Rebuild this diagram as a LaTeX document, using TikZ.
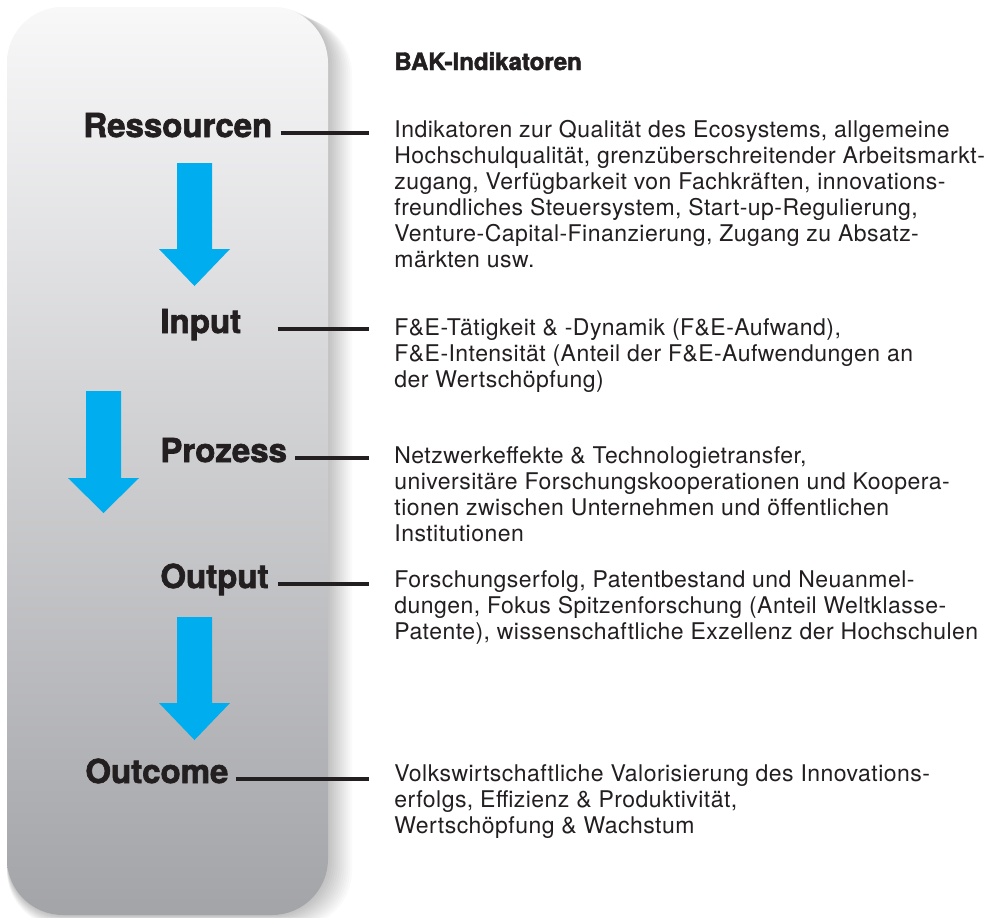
\documentclass[tikz,border=0pt]{standalone}
\usepackage{fontspec}
\setmainfont{TeX Gyre Heros}[LetterSpace=2]
\newfontfamily\heavyfont{TeX Gyre Heros}[BoldFeatures={FakeBold=2}]
\usepackage{tikz}
\usetikzlibrary{calc,positioning}
\definecolor{bakink}{HTML}{231F20}
\definecolor{bakblue}{HTML}{00AEEF}
\definecolor{baktop}{HTML}{F8F8F9}
\definecolor{bakbottom}{HTML}{A3A4A8}

\begin{document}
\begin{tikzpicture}[x=0.5pt,y=-0.5pt,line join=miter,
  lbl/.style={anchor=base west,inner sep=0pt,text=bakink,
    font=\heavyfont\bfseries\fontsize{16.5}{18}\selectfont},
  txt/.style={anchor=base west,inner sep=0pt,align=left,text=bakink,
    font=\fontsize{11.5}{13}\selectfont},
  conn/.style={bakink,line width=1.75pt},
  flow/.style={fill=bakblue}]
\useasboundingbox (0,0) rectangle (995,917);
\fill[white] (0,0) rectangle (995,917);

% Panel mit Schatten
\foreach \s in {1,...,12}
  \fill[black,opacity=.02,rounded corners=28] (7,6+\s) rectangle (328+2*\s,915+\s);
\shade[top color=baktop,bottom color=bakbottom,rounded corners=28]
  (7,7) rectangle (328,915);

% Pfeile
\fill[flow] (177,163)--(212,163)--(212,249)--(230,249)--(194.5,286)--(159,249)--(177,249)--cycle;
\fill[flow] (86,391)--(121,391)--(121,478)--(139,478)--(103.5,513)--(68,478)--(86,478)--cycle;
\fill[flow] (177,617)--(212,617)--(212,703)--(230,703)--(194.5,740)--(159,703)--(177,703)--cycle;

% Stufen
\node[lbl] (res) at (83,137) {Ressourcen};
\node[lbl] (inp) at (160,333) {Input};
\node[lbl] (pro) at (160,462) {Prozess};
\node[lbl] (outp) at (160,588) {Output};
\node[lbl] (outc) at (85,783) {Outcome};

% Indikatoren (base = Grundlinie der letzten Zeile)
\node[anchor=base west,inner sep=0pt,text=bakink,
  font=\heavyfont\bfseries\fontsize{12}{14}\selectfont] (head) at (394,70) {BAK-Indikatoren};
\node[txt] (t1) at (394,267) {Indikatoren zur Qualität des Ecosystems, allgemeine\\
  Hochschulqualität, grenzüberschreitender Arbeitsmarkt-\\
  zugang, Verfügbarkeit von Fachkräften, innovations-\\
  freundliches Steuersystem, Start-up-Regulierung,\\
  Venture-Capital-Finanzierung, Zugang zu Absatz-\\
  märkten usw.};
\node[txt] (t2) at (394,387) {F\&E-Tätigkeit \& -Dynamik (F\&E-Aufwand),\\
  F\&E-Intensität (Anteil der F\&E-Aufwendungen an\\
  der Wertschöpfung)};
\node[txt] (t3) at (394,541) {Netzwerkeffekte \& Technologietransfer,\\
  universitäre Forschungskooperationen und Koopera-\\
  tionen zwischen Unternehmen und öffentlichen\\
  Institutionen};
\node[txt] (t4) at (394,639) {Forschungserfolg, Patentbestand und Neuanmel-\\
  dungen, Fokus Spitzenforschung (Anteil Weltklasse-\\
  Patente), wissenschaftliche Exzellenz der Hochschulen};
\node[txt] (t5) at (394,833) {Volkswirtschaftliche Valorisierung des Innovations-\\
  erfolgs, Effizienz \& Produktivität,\\
  Wertschöpfung \& Wachstum};

% Verbindungslinien
\draw[conn] ($(res.base east)+(8,-4)$) -- ($(res.base east -| t1.west)+(-25,-4)$);
\draw[conn] ($(inp.base east)+(36,-4)$) -- ($(inp.base east -| t2.west)+(-25,-4)$);
\draw[conn] ($(pro.base east)+(8,-4)$) -- ($(pro.base east -| t3.west)+(-25,-4)$);
\draw[conn] ($(outp.base east)+(9,-4)$) -- ($(outp.base east -| t4.west)+(-25,-4)$);
\draw[conn] ($(outc.base east)+(7,-4)$) -- ($(outc.base east -| t5.west)+(-25,-4)$);
\end{tikzpicture}
\end{document}
